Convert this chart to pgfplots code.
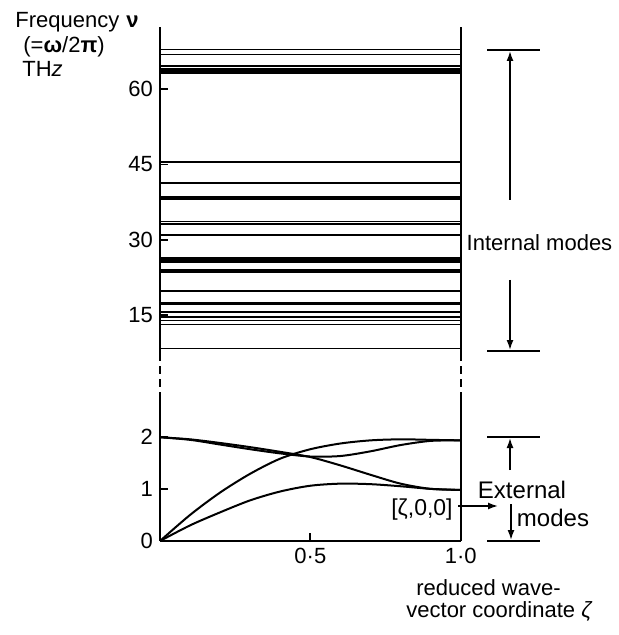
\documentclass[border=0pt]{standalone}
\usepackage{fontspec}
\setmainfont{Liberation Sans}
\usepackage{pgfplots}
\pgfplotsset{compat=1.18}
\usetikzlibrary{arrows.meta}
\begin{document}
\begin{tikzpicture}[font=\fontsize{11}{13.2}\selectfont]
\path (0,0) rectangle (309pt,-317.5pt);
\pgfplotsset{common/.style={scale only axis, width=150.35pt, xmin=0, xmax=1,
  tick align=inside, major tick length=4pt,
  tick style={black, line width=0.9pt}, axis line style={line width=1pt},
  ticklabel style={font=\fontsize{11}{13.2}\selectfont},
  /pgf/number format/assume math mode=true, ytick pos=left}}
\begin{axis}[common, at={(80pt,-176.5pt)}, anchor=south west, height=163pt,
  ymin=7.4, ymax=72.4, axis x line=none, axis y line=box, ytick={15,30,45,60}]
\pgfplotsinvokeforeach{67.9,66.9,64.6,64.0,63.7,63.3,45.5,41.3,38.5,38.1,33.6,33.2,31.0,26.3,26.0,25.6,23.9,23.5,19.7,17.4,17.1,15.5,14.6,13.9,13.1,8.3}{
  \addplot[black, line width=0.9pt] coordinates {(0,#1) (1,#1)};
}
\end{axis}
\begin{axis}[common, at={(80pt,-270.5pt)}, anchor=south west, height=73pt,
  ymin=0, ymax=2.8, axis x line*=bottom, axis y line*=box,
  xtick={0.5,1}, xticklabels={0·5,1·0}, ytick={0,1,2}]
\addplot[black, line width=1pt, smooth] coordinates {(0,0) (0.1,0.30) (0.2,0.55) (0.3,0.78) (0.4,0.95) (0.5,1.06) (0.6,1.10) (0.7,1.09) (0.8,1.05) (0.9,1.00) (1.0,0.98)};
\addplot[black, line width=1pt, smooth] coordinates {(0,0) (0.1,0.50) (0.2,0.93) (0.3,1.29) (0.4,1.58) (0.5,1.76) (0.6,1.87) (0.7,1.93) (0.8,1.95) (0.9,1.94) (1.0,1.93)};
\addplot[black, line width=1pt, smooth] coordinates {(0,1.99) (0.1,1.95) (0.2,1.88) (0.3,1.80) (0.4,1.71) (0.5,1.61) (0.6,1.45) (0.7,1.27) (0.8,1.10) (0.9,1.00) (1.0,0.98)};
\addplot[black, line width=1pt, smooth] coordinates {(0,1.99) (0.1,1.94) (0.2,1.85) (0.3,1.76) (0.4,1.68) (0.5,1.62) (0.6,1.63) (0.7,1.72) (0.8,1.84) (0.9,1.92) (1.0,1.93)};
\end{axis}
% broken-axis dashes
\draw[line width=1pt, dash pattern=on 4pt off 2.5pt] (80pt,-176.5pt) -- (80pt,-197.5pt);
\draw[line width=1pt, dash pattern=on 4pt off 2.5pt] (230.35pt,-176.5pt) -- (230.35pt,-197.5pt);
% axis title
\node[anchor=base west, inner sep=0] at (7.5pt,-14pt) {Frequency};
\node[anchor=base west, inner sep=0] at (63pt,-14pt) {\textbf{ν}};
\node[anchor=base west, inner sep=0] at (11.5pt,-26.5pt) {(=\textbf{ω}/2\textbf{π})};
\node[anchor=base west, inner sep=0] at (11pt,-38.5pt) {TH\textit{z}};
% x label
\node[anchor=base west, inner sep=0] at (208pt,-297.5pt) {reduced wave-};
\node[anchor=base west, inner sep=0] at (203pt,-308.5pt) {vector coordinate \textit{ζ}};
% [zeta,0,0]
\node[anchor=east, inner sep=0, font=\fontsize{11.5}{13.8}\selectfont] at (226.5pt,-255pt) {[ζ,0,0]};
\draw[line width=0.8pt, -{Latex[length=5pt,width=3.5pt]}] (229pt,-253pt) -- (249pt,-253pt);
% internal modes
\draw[line width=0.8pt] (243.5pt,-25pt) -- (270pt,-25pt);
\draw[line width=0.8pt] (243.5pt,-175.5pt) -- (270pt,-175.5pt);
\draw[line width=0.8pt, -{Latex[length=5pt,width=3.5pt]}] (255pt,-100pt) -- (255pt,-25.5pt);
\draw[line width=0.8pt, -{Latex[length=5pt,width=3.5pt]}] (255pt,-140pt) -- (255pt,-175pt);
\node[inner sep=0] at (269.75pt,-121.5pt) {Internal modes};
% external modes
\draw[line width=0.8pt] (243.5pt,-218.5pt) -- (270pt,-218.5pt);
\draw[line width=0.8pt] (243.5pt,-270.5pt) -- (270pt,-270.5pt);
\draw[line width=0.8pt, -{Latex[length=5pt,width=3.5pt]}] (255pt,-235pt) -- (255pt,-219pt);
\draw[line width=0.8pt, -{Latex[length=5pt,width=3.5pt]}] (255.5pt,-252pt) -- (255.5pt,-270pt);
\node[inner sep=0, font=\fontsize{12}{14.4}\selectfont] at (261pt,-245pt) {External};
\node[inner sep=0, font=\fontsize{12}{14.4}\selectfont] at (276.5pt,-259pt) {modes};
\end{tikzpicture}
\end{document}
